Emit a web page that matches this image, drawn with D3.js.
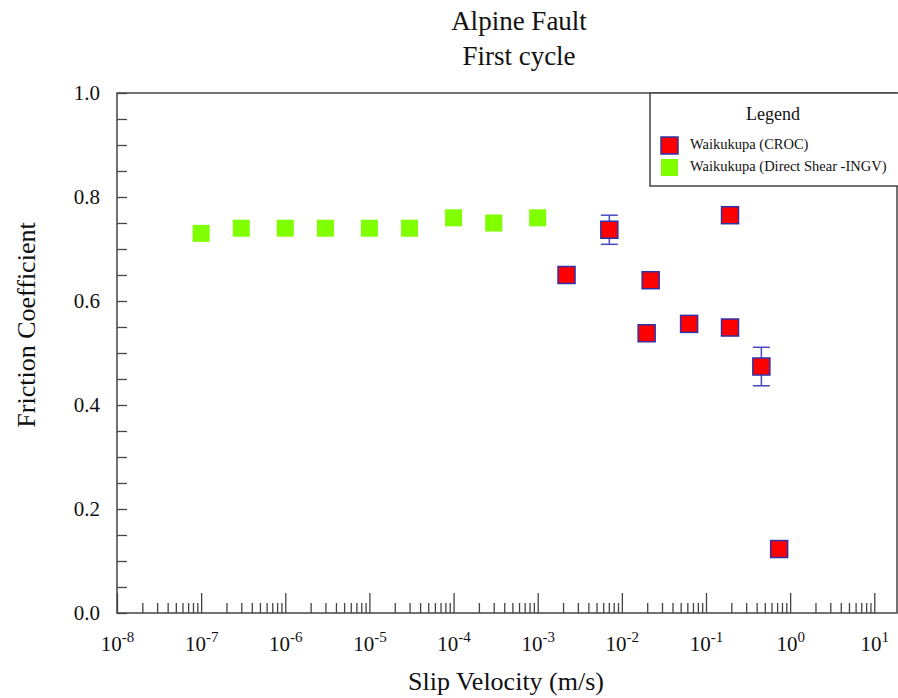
<!DOCTYPE html>
<html>
<head>
<meta charset="utf-8">
<script src="https://cdn.jsdelivr.net/npm/d3@7"></script>
<style>
  html, body { margin: 0; padding: 0; background: #fff; }
  svg { display: block; }
  svg text { font-family: "Liberation Serif", "Times New Roman", serif; }
</style>
</head>
<body>
<svg id="chart" width="898" height="698"></svg>
<script>
// Waikukupa (CROC) rotary shear runs: slip velocity (m/s), friction coefficient, error
const crocVelocity = [0.0022, 0.0071, 0.022, 0.0197, 0.063, 0.193, 0.193, 0.455, 0.74];
const crocFriction = [0.65, 0.737, 0.64, 0.538, 0.556, 0.765, 0.549, 0.474, 0.123];
const crocError    = [0, 0.028, 0, 0, 0, 0, 0, 0.037, 0];

// Waikukupa direct shear (INGV) velocity steps
const ingvVelocity = [1e-7, 3e-7, 1e-6, 3e-6, 1e-5, 3e-5, 1e-4, 3e-4, 1e-3];
const ingvFriction = [0.73, 0.74, 0.74, 0.74, 0.74, 0.74, 0.76, 0.75, 0.76];

const xDecades = [-8, -7, -6, -5, -4, -3, -2, -1, 0, 1];
const yTicks = [0, 0.2, 0.4, 0.6, 0.8, 1.0];
const seriesNames = ["Waikukupa (CROC)", "Waikukupa (Direct Shear -INGV)"];

const FONT = "'Liberation Serif', 'Times New Roman', serif";
const svg = d3.select("#chart");
const plotL = 117, plotR = 897, plotT = 93, plotB = 613;

const x = d3.scaleLog().domain([1e-8, Math.pow(10, 1.27)]).range([plotL, plotR]);
const y = d3.scaleLinear().domain([0, 1]).range([plotB, plotT]);

const axisColor = "#444";

// minor x ticks (2..9 per decade)
const minorX = [];
xDecades.forEach(k => {
  for (let m = 2; m <= 9; m++) {
    const v = m * Math.pow(10, k);
    if (v < x.domain()[1]) minorX.push(v);
  }
});
const gxMinor = svg.append("g").attr("transform", `translate(0,${plotB})`)
  .call(d3.axisBottom(x).tickValues(minorX).tickSize(-10).tickFormat(""));
gxMinor.select(".domain").remove();
gxMinor.selectAll("line").attr("stroke", axisColor).attr("stroke-width", 1.3);

// major x ticks with power-of-ten labels
const gx = svg.append("g").attr("transform", `translate(0,${plotB})`)
  .call(d3.axisBottom(x).tickValues(xDecades.map(k => Math.pow(10, k))).tickSize(-20).tickFormat(""));
gx.select(".domain").remove();
gx.selectAll("line").attr("stroke", axisColor).attr("stroke-width", 1.3);
gx.selectAll(".tick").each(function(d) {
  const k = Math.round(Math.log10(d));
  const t = d3.select(this).append("text")
    .attr("y", 38).attr("fill", "#111").attr("text-anchor", "middle")
    .style("font-size", "21px").style("font-family", FONT);
  t.append("tspan").text("10");
  t.append("tspan").attr("dy", -9).style("font-size", "15px").text(String(k));
});

// y ticks every 0.05, labels every 0.2
const gyMinor = svg.append("g").attr("transform", `translate(${plotL},0)`)
  .call(d3.axisLeft(y).tickValues(d3.range(0, 21).map(i => i * 0.05)).tickSize(-10).tickFormat(""));
gyMinor.select(".domain").remove();
gyMinor.selectAll("line").attr("stroke", axisColor).attr("stroke-width", 1.3);

const gy = svg.append("g").attr("transform", `translate(${plotL},0)`)
  .call(d3.axisLeft(y).tickValues(yTicks).tickSize(0).tickPadding(17).tickFormat(d3.format(".1f")));
gy.select(".domain").remove();
gy.selectAll("text").attr("fill", "#111").style("font-size", "21px").style("font-family", FONT);

// plot frame
svg.append("rect")
  .attr("x", plotL).attr("y", plotT).attr("width", plotR - plotL).attr("height", plotB - plotT)
  .attr("fill", "none").attr("stroke", axisColor).attr("stroke-width", 1.5);

// titles
svg.append("text").attr("x", 519).attr("y", 30).attr("text-anchor", "middle")
  .style("font-size", "27px").style("font-family", FONT).attr("fill", "#111").text("Alpine Fault");
svg.append("text").attr("x", 519).attr("y", 65).attr("text-anchor", "middle")
  .style("font-size", "27px").style("font-family", FONT).attr("fill", "#111").text("First cycle");

svg.append("text").attr("x", 506).attr("y", 690).attr("text-anchor", "middle")
  .style("font-size", "26px").style("font-family", FONT).attr("fill", "#111").text("Slip Velocity (m/s)");
svg.append("text").attr("transform", "translate(35,325) rotate(-90)").attr("text-anchor", "middle")
  .style("font-size", "26px").style("font-family", FONT).attr("fill", "#111").text("Friction Coefficient");

const sq = 17;
const green = "#7fff00";
const red = "#ff0000";
const errColor = "#4a4ac0";

// direct shear points
svg.append("g").selectAll("rect")
  .data(ingvVelocity.map((v, i) => ({ v, f: ingvFriction[i] })))
  .join("rect")
  .attr("x", d => x(d.v) - sq / 2).attr("y", d => y(d.f) - sq / 2)
  .attr("width", sq).attr("height", sq).attr("fill", green);

// CROC points with error bars
const croc = crocVelocity.map((v, i) => ({ v, f: crocFriction[i], e: crocError[i] }));
const eg = svg.append("g").attr("stroke", errColor).attr("stroke-width", 1.5);
croc.filter(d => d.e > 0).forEach(d => {
  const cx = x(d.v);
  eg.append("line").attr("x1", cx).attr("x2", cx).attr("y1", y(d.f + d.e)).attr("y2", y(d.f - d.e));
  [d.f + d.e, d.f - d.e].forEach(val => {
    eg.append("line").attr("x1", cx - sq / 2).attr("x2", cx + sq / 2).attr("y1", y(val)).attr("y2", y(val));
  });
});
svg.append("g").selectAll("rect")
  .data(croc)
  .join("rect")
  .attr("x", d => x(d.v) - sq / 2).attr("y", d => y(d.f) - sq / 2)
  .attr("width", sq).attr("height", sq).attr("fill", red)
  .attr("stroke", "#3030a8").attr("stroke-width", 1.5);

// legend
const lg = svg.append("g");
lg.append("rect").attr("x", 650).attr("y", plotT).attr("width", 260).attr("height", 93)
  .attr("fill", "#fff").attr("stroke", axisColor).attr("stroke-width", 1.5);
lg.append("text").attr("x", 773).attr("y", 120).attr("text-anchor", "middle")
  .style("font-size", "18px").style("font-family", FONT).attr("fill", "#111").text("Legend");
const legendFill = [red, green];
seriesNames.forEach((name, i) => {
  const yy = 145 + i * 22;
  lg.append("rect").attr("x", 661).attr("y", yy - 8).attr("width", sq).attr("height", sq)
    .attr("fill", legendFill[i])
    .attr("stroke", i === 0 ? "#3030a8" : "none").attr("stroke-width", 1.5);
  lg.append("text").attr("x", 690).attr("y", yy + 4)
    .style("font-size", "14.5px").style("font-family", FONT).attr("fill", "#111").text(name);
});
</script>
</body>
</html>
